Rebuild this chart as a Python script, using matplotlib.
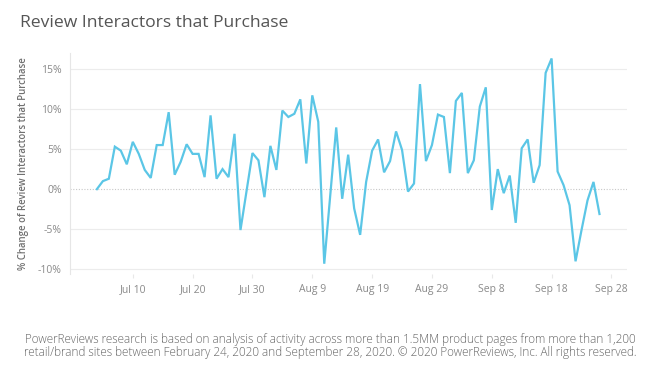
import numpy as np
import pandas as pd
import matplotlib
matplotlib.use('Agg')
import matplotlib.pyplot as plt
import matplotlib.dates as mdates
from matplotlib.ticker import FuncFormatter

# daily % change, Jul 4 - Sep 27 2020
start_date = '2020-07-04'
pct_change = [0.0, 1.0, 1.3, 5.3, 4.8, 3.1, 5.9, 4.4, 2.4, 1.4,
              5.5, 5.5, 9.6, 1.8, 3.4, 5.6, 4.4, 4.4, 1.5, 9.2,
              1.3, 2.5, 1.5, 6.9, -5.1, -0.3, 4.5, 3.6, -1.0, 5.4,
              2.4, 9.8, 9.0, 9.4, 11.2, 3.2, 11.7, 8.4, -9.3, -0.8,
              7.7, -1.2, 4.3, -2.4, -5.7, 0.9, 4.8, 6.2, 2.1, 3.5,
              7.2, 4.9, -0.3, 0.7, 13.1, 3.5, 5.5, 9.3, 9.0, 2.0,
              11.0, 12.0, 2.0, 3.6, 10.3, 12.7, -2.6, 2.5, -0.5, 1.7,
              -4.2, 5.1, 6.2, 0.8, 3.0, 14.5, 16.3, 2.2, 0.5, -2.0,
              -9.0, -5.1, -1.4, 0.9, -3.1]
tick_dates = ['2020-07-10', '2020-07-20', '2020-07-30', '2020-08-09', '2020-08-19',
              '2020-08-29', '2020-09-08', '2020-09-18', '2020-09-28']
y_ticks = [-10, -5, 0, 5, 10, 15]

dates = pd.date_range(start_date, periods=len(pct_change), freq='D')

plt.rcParams['font.family'] = ['Open Sans', 'DejaVu Sans']

fig = plt.figure(figsize=(6.6, 3.67), dpi=100)
ax = fig.add_axes([0.106, 0.253, 0.844, 0.603])

ax.plot(dates, pct_change, color='#5BC6E6', lw=1.6, solid_joinstyle='miter')

ax.set_ylim(-10.6, 17.0)
ax.set_yticks(y_ticks)
ax.yaxis.set_major_formatter(FuncFormatter(lambda v, p: '%d%%' % v))
for v in y_ticks:
    if v == 0:
        ax.axhline(v, color='#c8c8c8', lw=0.8, ls=(0, (1, 1.5)), zorder=0)
    else:
        ax.axhline(v, color='#ececec', lw=0.8, zorder=0)

ax.set_xlim(dates[0] - pd.Timedelta(days=4.5), dates[-1] + pd.Timedelta(days=4.6))
ax.set_xticks(pd.to_datetime(tick_dates))
ax.xaxis.set_major_formatter(mdates.DateFormatter('%b %-d'))

for s in ['top', 'right', 'bottom']:
    ax.spines[s].set_visible(False)
ax.spines['left'].set_color('#e6e6e6')
ax.tick_params(axis='y', length=0, labelsize=7.5, labelcolor='#8a8a8a', pad=6)
ax.tick_params(axis='x', length=3, color='#e8e8e8', labelsize=7.5, labelcolor='#8a8a8a', pad=4)

ax.set_ylabel('% Change of Review Interactors that Purchase', fontsize=6.9,
              color='#707070', fontweight='semibold')
ax.yaxis.set_label_coords(-0.074, 0.5)

fig.text(0.030, 0.937, 'Review Interactors that Purchase', fontsize=12.6,
         color='#555555', ha='left', va='center')

footer = ('PowerReviews research is based on analysis of activity across more than 1.5MM product pages from more than 1,200\n'
          'retail/brand sites between February 24, 2020 and September 28, 2020. \u00a9 2020 PowerReviews, Inc. All rights reserved.')
fig.text(0.5, 0.057, footer, fontsize=8.5, color='#666666', ha='center', va='center',
         linespacing=1.0, fontweight='light')

fig.savefig('out.png', dpi=100)
